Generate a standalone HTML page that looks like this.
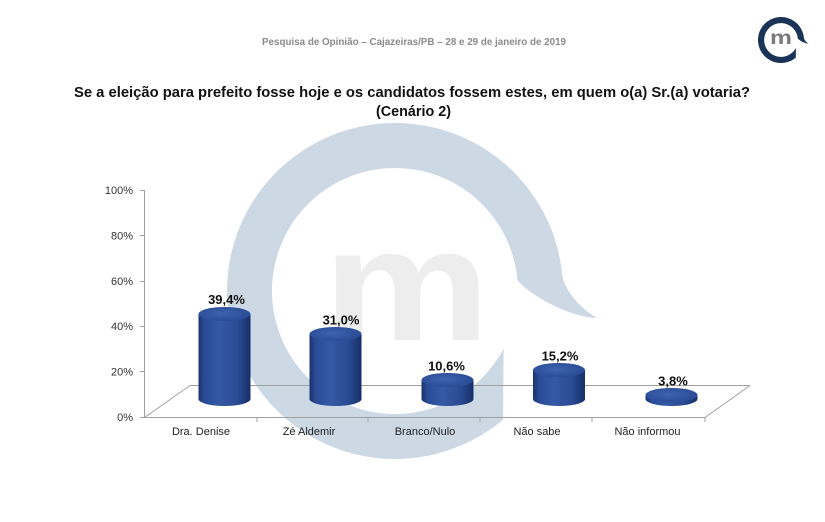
<!DOCTYPE html>
<html>
<head>
<meta charset="utf-8">
<style>
  html, body { margin:0; padding:0; background:#ffffff; }
  body { width:825px; height:522px; overflow:hidden; }
  svg { display:block; }
  text { font-family: "Liberation Sans", Arial, sans-serif; }
</style>
</head>
<body>
<svg width="825" height="522" viewBox="0 0 825 522" xmlns="http://www.w3.org/2000/svg">
  <defs>
    <linearGradient id="body" x1="0" y1="0" x2="1" y2="0">
      <stop offset="0" stop-color="#1a336d"/>
      <stop offset="0.12" stop-color="#2a4c97"/>
      <stop offset="0.4" stop-color="#3659a6"/>
      <stop offset="0.75" stop-color="#2a4a93"/>
      <stop offset="1" stop-color="#172f68"/>
    </linearGradient>
    <radialGradient id="cap" cx="0.45" cy="0.45" r="0.6">
      <stop offset="0" stop-color="#3e63af"/>
      <stop offset="1" stop-color="#294a94"/>
    </radialGradient>
  </defs>

  <rect x="0" y="0" width="825" height="522" fill="#ffffff"/>

  <!-- Watermark ring -->
  <path d="M503.6,348.7 L503,419.7 A168,168 0 1 1 562.4,276.4 C566,292 580,308 597,318 C575,318 535,300 517.5,280.3 A123,123 0 1 0 503.6,348.7 Z" fill="#cdd8e5"/>
  <!-- Watermark m -->
  <text x="323" y="340" font-size="160" font-weight="bold" fill="#ededed" textLength="167" lengthAdjust="spacingAndGlyphs">m</text>

  <!-- Logo -->
  <g transform="translate(781,40) scale(0.137) translate(-395,-291)">
    <path d="M503.6,348.7 L503,419.7 A168,168 0 1 1 562.4,276.4 C566,292 580,308 597,318 C575,318 535,300 517.5,280.3 A123,123 0 1 0 503.6,348.7 Z" fill="#1b3358"/>
  </g>
  <text x="770" y="44" font-size="19" font-weight="bold" fill="#7a7a7a" textLength="22" lengthAdjust="spacingAndGlyphs">m</text>

  <!-- Header -->
  <text x="262" y="45" font-size="10" font-weight="bold" fill="#8a8a8a" textLength="304" lengthAdjust="spacingAndGlyphs">Pesquisa de Opinião – Cajazeiras/PB – 28 e 29 de janeiro de 2019</text>
  <text x="74" y="97" font-size="14.5" font-weight="bold" fill="#111111" textLength="676" lengthAdjust="spacingAndGlyphs">Se a eleição para prefeito fosse hoje e os candidatos fossem estes, em quem o(a) Sr.(a) votaria?</text>
  <text x="376" y="116" font-size="14.5" font-weight="bold" fill="#111111" textLength="75" lengthAdjust="spacingAndGlyphs">(Cenário 2)</text>

  <!-- Axes / floor -->
  <g stroke="#a0a0a0" stroke-width="1" fill="none">
    <line x1="144.5" y1="190" x2="144.5" y2="417.5"/>
    <line x1="140" y1="190.5" x2="144.5" y2="190.5"/>
    <line x1="140" y1="235.5" x2="144.5" y2="235.5"/>
    <line x1="140" y1="281.5" x2="144.5" y2="281.5"/>
    <line x1="140" y1="326.5" x2="144.5" y2="326.5"/>
    <line x1="140" y1="371.5" x2="144.5" y2="371.5"/>
    <line x1="140" y1="417.5" x2="144.5" y2="417.5"/>
    <line x1="144.5" y1="417.5" x2="705" y2="417.5"/>
    <line x1="190" y1="385.5" x2="750" y2="385.5"/>
    <line x1="144.5" y1="417.5" x2="190" y2="385.5"/>
    <line x1="705" y1="417.5" x2="750" y2="385.5"/>
    <line x1="257" y1="417.5" x2="257" y2="422"/>
    <line x1="368" y1="417.5" x2="368" y2="422"/>
    <line x1="480" y1="417.5" x2="480" y2="422"/>
    <line x1="592" y1="417.5" x2="592" y2="422"/>
    <line x1="705" y1="417.5" x2="705" y2="422"/>
  </g>

  <!-- Y labels -->
  <g font-size="11" fill="#333333" text-anchor="end">
    <text x="133" y="194">100%</text>
    <text x="133" y="239.5">80%</text>
    <text x="133" y="285">60%</text>
    <text x="133" y="330">40%</text>
    <text x="133" y="375.5">20%</text>
    <text x="133" y="421">0%</text>
  </g>

  <!-- Bars -->
  <path d="M198.5,314 L198.5,399 A26,7 0 0 0 250.5,399 L250.5,314 Z" fill="url(#body)"/>
  <ellipse cx="224.5" cy="314" rx="26" ry="7" fill="url(#cap)"/>
  <path d="M309.5,334 L309.5,399 A26,7 0 0 0 361.5,399 L361.5,334 Z" fill="url(#body)"/>
  <ellipse cx="335.5" cy="334" rx="26" ry="7" fill="url(#cap)"/>
  <path d="M421.5,380 L421.5,399 A26,7 0 0 0 473.5,399 L473.5,380 Z" fill="url(#body)"/>
  <ellipse cx="447.5" cy="380" rx="26" ry="7" fill="url(#cap)"/>
  <path d="M533,370 L533,399 A26,7 0 0 0 585,399 L585,370 Z" fill="url(#body)"/>
  <ellipse cx="559" cy="370" rx="26" ry="7" fill="url(#cap)"/>
  <path d="M645.5,395 L645.5,399 A26,7 0 0 0 697.5,399 L697.5,395 Z" fill="url(#body)"/>
  <ellipse cx="671.5" cy="395" rx="26" ry="7" fill="url(#cap)"/>

  <!-- Value labels -->
  <g font-size="13" font-weight="bold" fill="#111111" text-anchor="middle">
    <text x="226.5" y="304">39,4%</text>
    <text x="341" y="324.5">31,0%</text>
    <text x="446.5" y="370.5">10,6%</text>
    <text x="560" y="360.5">15,2%</text>
    <text x="673" y="385.5">3,8%</text>
  </g>

  <!-- Category labels -->
  <g font-size="11" fill="#222222" text-anchor="middle">
    <text x="201" y="435">Dra. Denise</text>
    <text x="309" y="435">Zé Aldemir</text>
    <text x="425" y="435">Branco/Nulo</text>
    <text x="537" y="435">Não sabe</text>
    <text x="647.5" y="435">Não informou</text>
  </g>
</svg>
</body>
</html>
